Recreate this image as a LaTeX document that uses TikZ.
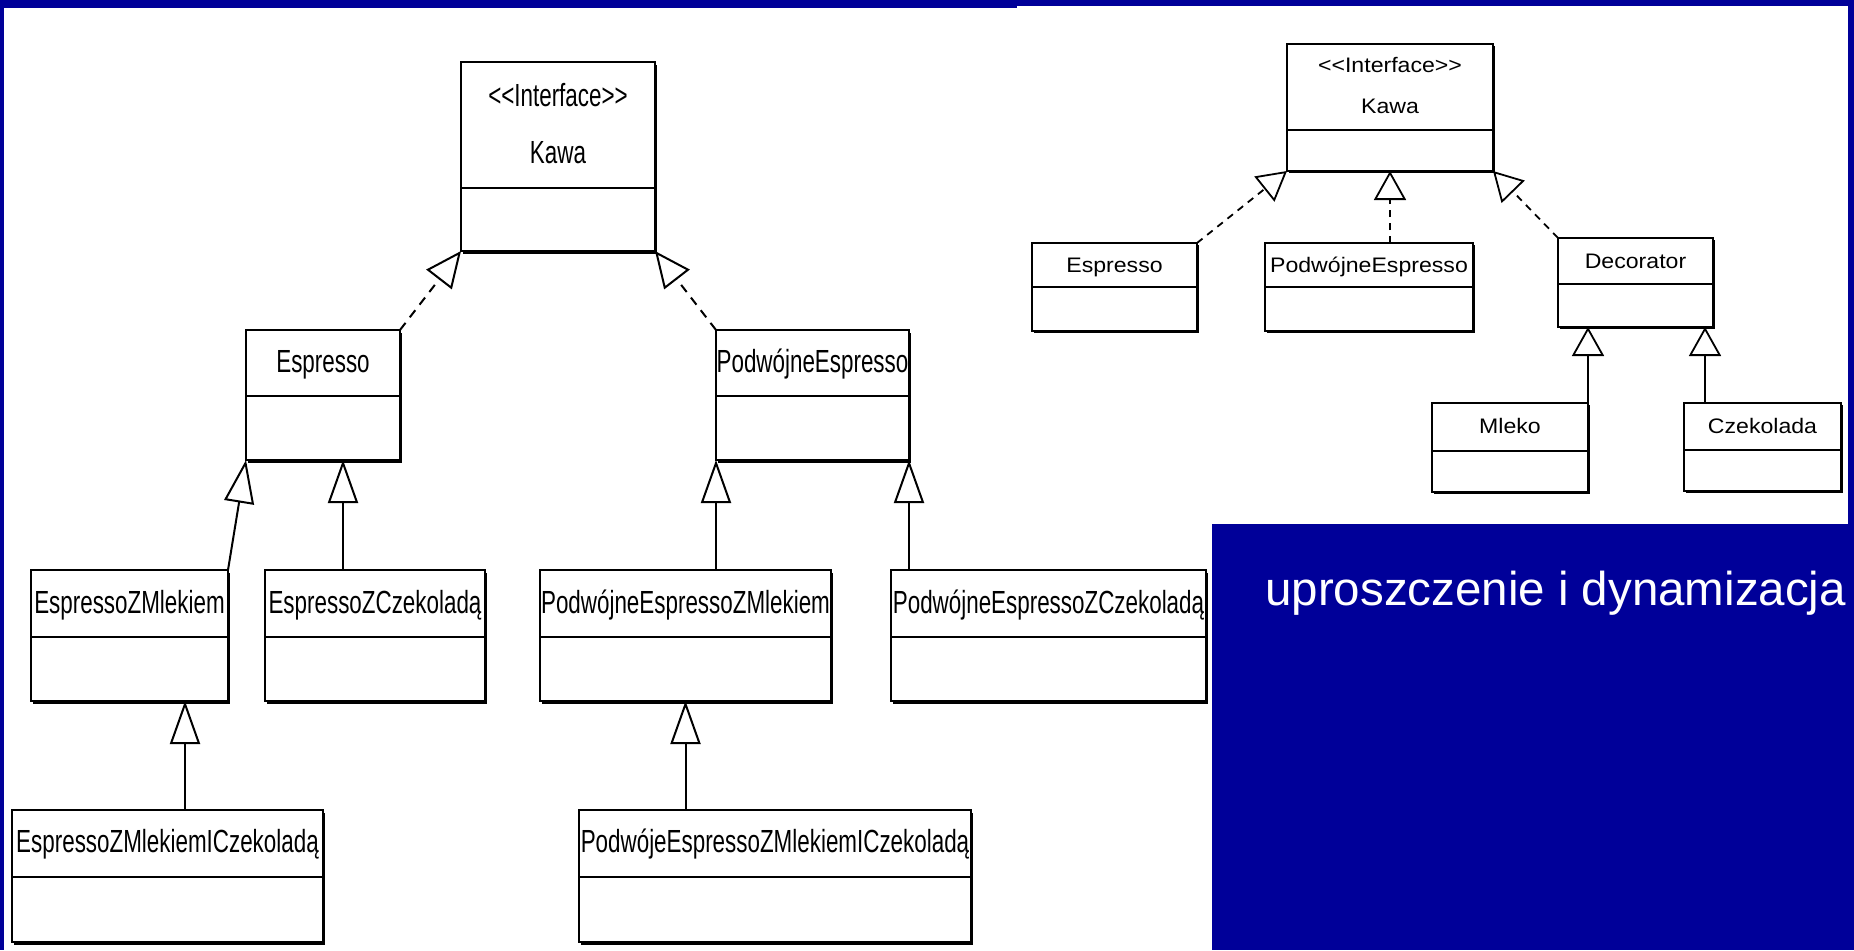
\documentclass[tikz,border=0pt]{standalone}
\usepackage{fontspec}
\setmainfont{Liberation Sans}
\newfontfamily\umlLfont[FakeStretch=0.70]{Liberation Sans}
\newfontfamily\umlRfont[FakeStretch=1.10]{Liberation Sans}
\usetikzlibrary{arrows.meta}
\definecolor{slideblue}{RGB}{0,0,153}

% UML class box: name, x0, y0, x1, y1, divider y, text baseline y, class name, size set (L/R)
\newcommand\umlclass[9]{%
  \pgfmathsetmacro\umlw{#4-#2}%
  \pgfmathsetmacro\umlh{#5-#3}%
  \fill[shadow#9] (#2,#3) rectangle (#4,#5);
  \node[box#9, minimum width=\umlw pt, minimum height=\umlh pt, anchor=north west] (#1) at (#2,#3) {};
  \draw[div#9] (#1.west |- 0,#6) -- (#1.east |- 0,#6);
  \node[label#9] (#1-name) at ({(#2+#4)/2},#7) {#8};
}

\begin{document}
\begin{tikzpicture}[x=1pt,y=-1pt,
  boxL/.style={draw, fill=white, line width=2pt, inner sep=0, outer sep=0},
  boxR/.style={draw, fill=white, line width=1.8pt, inner sep=0, outer sep=0},
  shadowL/.style={fill=black, xshift=1.5pt, yshift=-3pt},
  shadowR/.style={fill=black, xshift=1.5pt, yshift=-2pt},
  divL/.style={line width=2.5pt},
  divR/.style={line width=2pt},
  labelL/.style={anchor=base, inner sep=0, font=\umlLfont\fontsize{32}{36}\selectfont},
  labelR/.style={anchor=base, inner sep=0, font=\umlRfont\fontsize{21}{24}\selectfont},
  genL/.style={line width=2pt, line join=miter, -{Triangle[length=43pt,width=30pt,fill=white]}},
  realL/.style={line width=2pt, line join=miter, dash pattern=on 9pt off 7pt,
    -{Triangle[length=36pt,width=32pt,fill=white]}},
  genR/.style={line width=1.8pt, line join=miter, -{Triangle[length=29pt,width=32pt,fill=white]}},
  realR/.style={genR, dash pattern=on 7pt off 6pt},
  caption/.style={anchor=base west, inner sep=0, text=white, font=\fontsize{47.5}{52}\selectfont}
]
\useasboundingbox (0,0) rectangle (1854,950);
\fill[slideblue] (0,0) rectangle (1854,950);

% white panels
\fill[white] (4,8) rectangle (1212,950);
\fill[white] (1017,6) rectangle (1848,524);

% ---- class hierarchy with one subclass per combination ----
\umlclass{kawaL}{461}{62}{655}{251}{188}{163}{Kawa}{L}
\node[labelL] (kawaL-st) at (558,106) {<\kern0pt<Interface>\kern0pt>};
\umlclass{espL}{246}{330}{400}{460}{396}{372}{Espresso}{L}
\umlclass{pdeL}{716}{330}{909}{460}{396}{372}{PodwójneEspresso}{L}
\umlclass{ezm}{31}{570}{228}{701}{637}{613}{EspressoZMlekiem}{L}
\umlclass{ezc}{265}{570}{485}{701}{637}{613}{EspressoZCzekoladą}{L}
\umlclass{pdezm}{540}{570}{831}{701}{637}{613}{PodwójneEspressoZMlekiem}{L}
\umlclass{pdezc}{891}{570}{1206}{701}{637}{613}{PodwójneEspressoZCzekoladą}{L}
\umlclass{ezmc}{12}{810}{323}{942}{877}{852}{EspressoZMlekiemICzekoladą}{L}
\umlclass{pezmc}{579}{810}{971}{942}{877}{852}{PodwójeEspressoZMlekiemICzekoladą}{L}

\draw[realL] (espL.north east) -- (kawaL.south west);
\draw[realL] (pdeL.north west) -- (kawaL.south east);
\draw[genL] (ezm.north east) -- (espL.south west);
\draw[genL] (ezc.north -| 343,0) -- (espL.south -| 343,0);
\draw[genL] (pdezm.north -| pdeL.south west) -- (pdeL.south west);
\draw[genL] (pdezc.north -| pdeL.south east) -- (pdeL.south east);
\draw[genL] (ezmc.north -| 185,0) -- (ezm.south -| 185,0);
\draw[genL] (pezmc.north -| pdezm.south) -- (pdezm.south);

% ---- decorator version ----
\umlclass{kawaR}{1287}{44}{1493}{171}{130}{113}{Kawa}{R}
\node[labelR] (kawaR-st) at (1390,73) {<\kern0pt<Interface>\kern0pt>};
\umlclass{espR}{1032}{243}{1197}{331}{287}{272}{Espresso}{R}
\umlclass{pdeR}{1265}{243}{1473}{331}{287}{272}{PodwójneEspresso}{R}
\umlclass{dec}{1558}{238}{1713}{327}{284}{268}{Decorator}{R}
\umlclass{mleko}{1432}{403}{1588}{492}{451}{433}{Mleko}{R}
\umlclass{czek}{1684}{403}{1841}{491}{450}{433}{Czekolada}{R}

\draw[realR] (espR.north east) -- (kawaR.south west);
\draw[realR] (pdeR.north -| kawaR.south) -- (kawaR.south);
\draw[realR] (dec.north west) -- (kawaR.south east);
\draw[genR] (mleko.north east) -- (mleko.north east |- dec.south);
\draw[genR] (czek.north -| 1705,0) -- (dec.south -| 1705,0);

\node[caption] (caption) at (1265,605) {uproszczenie i dynamizacja};
\end{tikzpicture}
\end{document}
